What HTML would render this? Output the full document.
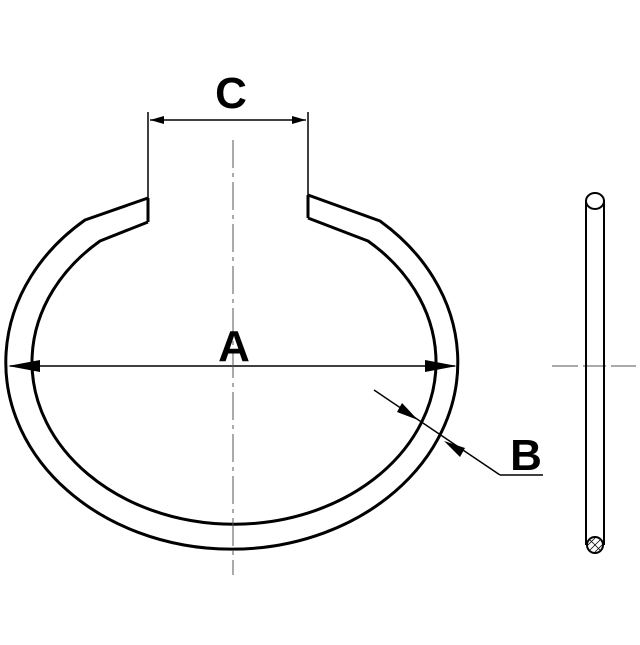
<!DOCTYPE html>
<html><head><meta charset="utf-8"><style>html,body{margin:0;padding:0;background:#fff}</style></head>
<body>
<svg width="640" height="640" viewBox="0 0 640 640" xmlns="http://www.w3.org/2000/svg">
<g fill="none" stroke="#000" stroke-width="3" stroke-linejoin="round">
<path d="M148,198 L85,220 A226,187 0 1 0 380,221 L308,195"/>
<path d="M148,222 L100,241 A202,162 0 1 0 368,241 L308,218"/>
<line x1="148" y1="198" x2="148" y2="222"/>
<line x1="308" y1="195" x2="308" y2="218"/>
</g>
<g stroke="#000" stroke-width="1.5">
<line x1="148" y1="112" x2="148" y2="198"/>
<line x1="308" y1="112" x2="308" y2="195"/>
<line x1="150" y1="120" x2="306" y2="120"/>
<line x1="10" y1="366" x2="455" y2="366"/>
<line x1="374" y1="390" x2="500" y2="475"/>
<line x1="500" y1="475" x2="543" y2="475"/>
</g>
<g fill="#000">
<polygon points="150,120 164,116 164,124"/>
<polygon points="306,120 292,116 292,124"/>
<polygon points="8,366 40,360 40,372"/>
<polygon points="457,366 425,360 425,372"/>
<polygon points="418,420 397,412 402,403"/>
<polygon points="444,441 465,448 460,457"/>
</g>
<g stroke="#555" stroke-width="1" stroke-dasharray="28,5,4,5">
<line x1="233" y1="140" x2="233" y2="575"/>
</g>
<g stroke="#555" stroke-width="1">
<line x1="552" y1="366" x2="578" y2="366"/>
<line x1="583" y1="366" x2="606" y2="366"/>
<line x1="611" y1="366" x2="636" y2="366"/>
</g>
<g fill="none" stroke="#000" stroke-width="2">
<line x1="586" y1="200" x2="586" y2="545"/>
<line x1="604" y1="200" x2="604" y2="545"/>
<ellipse cx="595" cy="201" rx="9" ry="8" fill="#fff"/>
<circle cx="595" cy="545" r="8" fill="#fff"/>
</g>
<g stroke="#000" stroke-width="0.8">
<line x1="589" y1="539" x2="601" y2="551"/><line x1="601" y1="539" x2="589" y2="551"/>
<line x1="588" y1="545" x2="595" y2="538"/><line x1="595" y1="552" x2="602" y2="545"/>
</g>
<g font-family="Liberation Sans, sans-serif" font-weight="bold" font-size="44" fill="#000" text-anchor="middle">
<text x="231" y="108">C</text>
<text x="234" y="361">A</text>
<text x="526" y="470">B</text>
</g>
</svg>
</body></html>
